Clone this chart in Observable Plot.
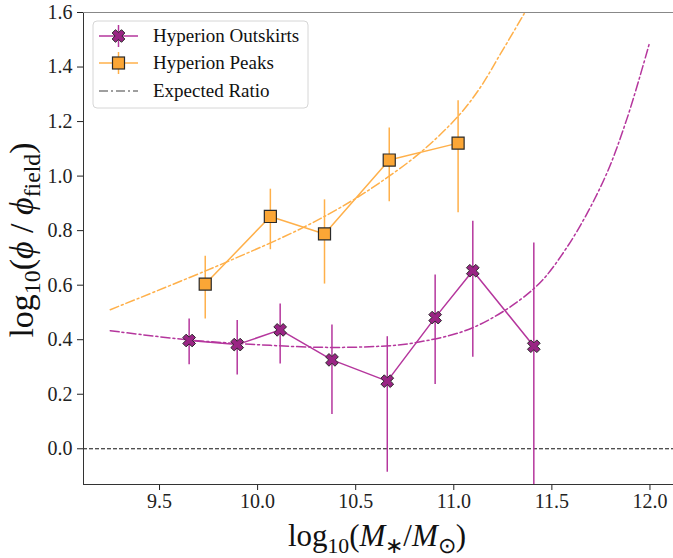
<!DOCTYPE html>
<html>
<head>
<meta charset="utf-8">
<script src="https://cdn.jsdelivr.net/npm/d3@7"></script>
<script src="https://cdn.jsdelivr.net/npm/@observablehq/plot@0.6"></script>
<style>
  html, body { margin: 0; padding: 0; background: white; }
  #chart svg { display: block; }
  #chart svg text, #chart svg tspan { font-family: "Liberation Serif", "Times New Roman", serif !important; }
</style>
</head>
<body>
<div id="chart"></div>
<script>
// ---- Data ----
const outskirtsMass = [9.651, 9.896, 10.115, 10.379, 10.661, 10.905, 11.097, 11.408];
const outskirtsRatio = [0.397, 0.382, 0.436, 0.326, 0.248, 0.481, 0.653, 0.376];
const outskirtsLow = [0.308, 0.271, 0.311, 0.126, -0.086, 0.236, 0.336, -0.40];
const outskirtsHigh = [0.476, 0.470, 0.531, 0.454, 0.411, 0.637, 0.834, 0.755];

const peaksMass = [9.733, 10.065, 10.341, 10.671, 11.022];
const peaksRatio = [0.604, 0.852, 0.788, 1.059, 1.121];
const peaksLow = [0.476, 0.730, 0.604, 0.906, 0.866];
const peaksHigh = [0.706, 0.952, 0.913, 1.176, 1.276];

const expPeaksMass = [9.249, 9.826, 10.234, 10.472, 10.625, 10.829, 11.024, 11.135, 11.237, 11.359];
const expPeaksRatio = [0.510, 0.680, 0.812, 0.906, 0.977, 1.086, 1.221, 1.325, 1.447, 1.596];

const expOutMass = [9.249, 9.64, 9.996, 10.336, 10.625, 10.795, 11.1, 11.406, 11.576, 11.763, 11.882, 11.996];
const expOutRatio = [0.433, 0.400, 0.382, 0.372, 0.376, 0.388, 0.445, 0.586, 0.738, 0.983, 1.209, 1.484];

const xTicks = [9.5, 10.0, 10.5, 11.0, 11.5, 12.0];
const yTicks = [0.0, 0.2, 0.4, 0.6, 0.8, 1.0, 1.2, 1.4, 1.6];
const seriesNames = ["Hyperion Outskirts", "Hyperion Peaks", "Expected Ratio"];

// ---- Build tables ----
const outskirts = outskirtsMass.map((m, i) => ({m, r: outskirtsRatio[i], lo: outskirtsLow[i], hi: outskirtsHigh[i]}));
const peaks = peaksMass.map((m, i) => ({m, r: peaksRatio[i], lo: peaksLow[i], hi: peaksHigh[i]}));
const expPeaks = expPeaksMass.map((m, i) => ({m, r: expPeaksRatio[i]}));
const expOut = expOutMass.map((m, i) => ({m, r: expOutRatio[i]}));

const magLine = "#b5369d";
const magFill = "#9a2484";
const orLine = "#ffb04a";
const orFill = "#fba636";
const edge = "#2a2a2a";
const FONT = "Liberation Serif, Times New Roman, serif";

// filled "X" marker (like matplotlib 'X')
const xSymbol = {
  draw(context, size) {
    const r = Math.sqrt(size / Math.PI);
    const a = r * 0.36;
    const pts = [[-a,-r],[a,-r],[a,-a],[r,-a],[r,a],[a,a],[a,r],[-a,r],[-a,a],[-r,a],[-r,-a],[-a,-a]];
    const c = Math.SQRT1_2;
    pts.forEach(([x, y], i) => {
      const X = (x - y) * c, Y = (x + y) * c;
      i ? context.lineTo(X, Y) : context.moveTo(X, Y);
    });
    context.closePath();
  }
};

const xDomain = [9.1125, 12.12];
const yDomain = [-0.131, 1.6];
const xr = 6.6;

const chart = Plot.plot({
  width: 673,
  height: 558,
  marginLeft: 83,
  marginRight: 0,
  marginTop: 12,
  marginBottom: 74,
  x: {domain: xDomain},
  y: {domain: yDomain},
  style: {fontFamily: FONT, fontSize: "20px", background: "white", color: "#222"},
  marks: [
    Plot.ruleY([0], {stroke: "#111", strokeWidth: 1, strokeDasharray: "4,2"}),
    Plot.line(expPeaks, {x: "m", y: "r", stroke: orLine, strokeWidth: 1.5, strokeDasharray: "9,3,2,3", curve: "catmull-rom", clip: true}),
    Plot.line(expOut, {x: "m", y: "r", stroke: magLine, strokeWidth: 1.5, strokeDasharray: "9,3,2,3", curve: "catmull-rom", clip: true}),
    Plot.ruleX(outskirts, {x: "m", y1: "lo", y2: "hi", stroke: magLine, strokeWidth: 1.5, clip: true}),
    Plot.line(outskirts, {x: "m", y: "r", stroke: magLine, strokeWidth: 1.5}),
    Plot.ruleX(peaks, {x: "m", y1: "lo", y2: "hi", stroke: orLine, strokeWidth: 1.5, clip: true}),
    Plot.line(peaks, {x: "m", y: "r", stroke: orLine, strokeWidth: 1.5}),
    Plot.dot(outskirts, {x: "m", y: "r", symbol: xSymbol, r: xr, fill: magFill, stroke: edge, strokeWidth: 1}),
    Plot.dot(peaks, {x: "m", y: "r", symbol: "square", r: 6.8, fill: orFill, stroke: edge, strokeWidth: 1.2}),
    Plot.axisX({ticks: xTicks, tickFormat: d => d.toFixed(1), tickSize: 6, tickPadding: 3, label: null, fontSize: 20, fontFamily: FONT}),
    Plot.axisY({ticks: yTicks, tickFormat: d => d.toFixed(1), tickSize: 6, tickPadding: 5, label: null, fontSize: 20, fontFamily: FONT}),
    Plot.ruleX([xDomain[0]], {stroke: "#333", strokeWidth: 1}),
    Plot.ruleY([yDomain[0]], {stroke: "#333", strokeWidth: 1}),
    Plot.ruleY([yDomain[1]], {stroke: "#888", strokeWidth: 1})
  ]
});
document.getElementById("chart").appendChild(chart);

const svg = d3.select(chart);

function richText(sel, parts, fs) {
  const t = sel.append("text").attr("font-family", FONT).attr("fill", "#111");
  let shift = 0;
  for (const p of parts) {
    const s = p.sub ? fs * 0.22 : 0;
    const ts = t.append("tspan").text(p.t).attr("dy", s - shift).attr("font-size", p.sub ? fs * 0.7 : fs);
    if (p.it) ts.attr("font-style", "italic");
    shift = s;
  }
  return t;
}

// x label
const xl = richText(svg.append("g"), [
  {t: "log"}, {t: "10", sub: true}, {t: "("}, {t: "M", it: true}, {t: "∗", sub: true},
  {t: "/"}, {t: "M", it: true}, {t: "⊙", sub: true}, {t: ")"}
], 31);
xl.attr("text-anchor", "middle").attr("x", 377).attr("y", 546);

// y label
const yl = richText(svg.append("g").attr("transform", "translate(33,240) rotate(-90)"), [
  {t: "log"}, {t: "10", sub: true}, {t: "("}, {t: "ϕ", it: true}, {t: " / "},
  {t: "ϕ", it: true}, {t: "field", sub: true}, {t: ")"}
], 34);
yl.attr("text-anchor", "middle");

// legend
const lg = svg.append("g");
lg.append("rect").attr("x", 93).attr("y", 21).attr("width", 215).attr("height", 87)
  .attr("rx", 4).attr("fill", "white").attr("fill-opacity", 0.85).attr("stroke", "#d6d6d6");
const rows = [36, 63, 91];
// outskirts entry
lg.append("line").attr("x1", 99).attr("x2", 138).attr("y1", rows[0]).attr("y2", rows[0]).attr("stroke", magLine).attr("stroke-width", 1.5);
lg.append("line").attr("x1", 118.5).attr("x2", 118.5).attr("y1", rows[0] - 11).attr("y2", rows[0] + 11).attr("stroke", magLine).attr("stroke-width", 1.5);
lg.append("path").attr("d", d3.symbol(xSymbol, Math.PI * xr * xr)()).attr("transform", `translate(118.5,${rows[0]})`)
  .attr("fill", magFill).attr("stroke", edge);
// peaks entry
lg.append("line").attr("x1", 99).attr("x2", 138).attr("y1", rows[1]).attr("y2", rows[1]).attr("stroke", orLine).attr("stroke-width", 1.5);
lg.append("line").attr("x1", 118.5).attr("x2", 118.5).attr("y1", rows[1] - 11).attr("y2", rows[1] + 11).attr("stroke", orLine).attr("stroke-width", 1.5);
lg.append("rect").attr("x", 112.5).attr("y", rows[1] - 6).attr("width", 12).attr("height", 12)
  .attr("fill", orFill).attr("stroke", edge).attr("stroke-width", 1.2);
// expected entry
lg.append("line").attr("x1", 99).attr("x2", 138).attr("y1", rows[2]).attr("y2", rows[2]).attr("stroke", "#808080")
  .attr("stroke-width", 1.5).attr("stroke-dasharray", "9,3,2,3");
seriesNames.forEach((n, i) => {
  lg.append("text").attr("x", 153).attr("y", rows[i]).attr("dy", "0.33em").attr("text-anchor", "start")
    .attr("font-family", FONT).attr("font-size", 19).attr("fill", "#111").text(n);
});
</script>
</body>
</html>
